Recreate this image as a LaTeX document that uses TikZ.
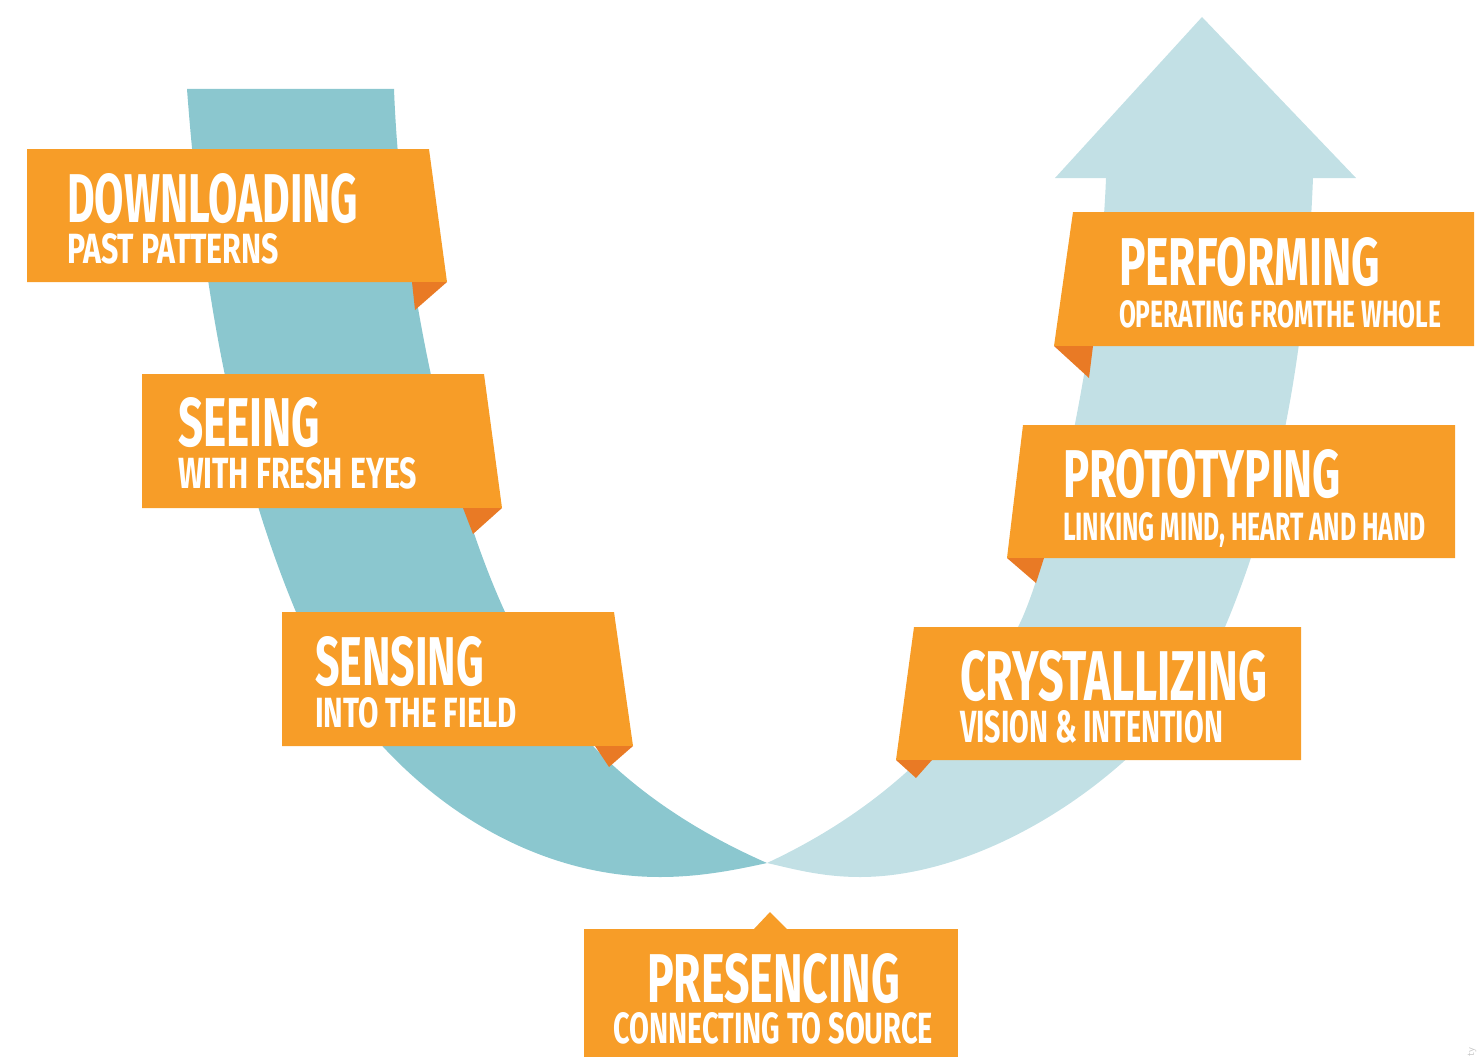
\documentclass[tikz,border=0pt]{standalone}
\usepackage{fontspec}
\usepackage{graphicx}
\newfontfamily\bannerfont{Fira Sans}
\definecolor{bandDark}{RGB}{139,199,207}
\definecolor{bandLight}{RGB}{194,224,229}
\definecolor{bannerOrange}{RGB}{247,157,40}
\definecolor{foldOrange}{RGB}{233,122,37}
% fit a line of banner lettering into a box of given width and cap height
\newcommand\fitline[3]{\resizebox{#1pt}{#2pt}{\bannerfont\bfseries #3}}
\begin{document}
\begin{tikzpicture}[x=1pt,y=-1pt,
  banner/.style={fill=bannerOrange},
  foldtri/.style={fill=foldOrange},
  label/.style={anchor=base west, inner sep=0pt, outer sep=0pt, text=white}]
\useasboundingbox (0,0) rectangle (1481,1057);

% descending band (left half of the U), tapering to the bottom point
\coordinate (bottomtip) at (767,863);
\fill[bandDark]
  (187,89) .. controls (205,330) and (245,490) .. (296,612)
           .. controls (357,758) and (500,877) .. (660,877)
           .. controls (700,877) and (735,870) .. (bottomtip)
           .. controls (667,819) and (560,745) .. (505,612)
           .. controls (440,470) and (400,250) .. (394,89)
  -- cycle;

% ascending band (right half of the U) and its arrow head
\fill[bandLight]
  (bottomtip) .. controls (870,815) and (960,740) .. (1018,627)
              .. controls (1050,565) and (1100,340) .. (1106,178)
  -- (1313,178)
              .. controls (1305,380) and (1270,520) .. (1225,627)
              .. controls (1171,755) and (1000,877) .. (860,877)
              .. controls (820,877) and (790,868) .. (bottomtip)
  -- cycle;
\fill[bandLight] (1055,178) -- (1202,17) -- (1356,178) -- cycle;

% left-hand banners
\fill[banner] (27,149) -- (429,149) -- (447,282) -- (27,282) -- cycle;
\fill[foldtri] (412,282) -- (447,282) -- (415,310) -- cycle;
\node[label] (downT) at (67,222) {\fitline{291}{49}{DOWNLOADING}};
\node[label] (downS) at (67,263) {\fitline{212}{30}{PAST PATTERNS}};

\fill[banner] (142,374) -- (484,374) -- (502,508) -- (142,508) -- cycle;
\fill[foldtri] (463,508) -- (502,508) -- (473,534) -- cycle;
\node[label] (seeT) at (178,446) {\fitline{142}{49}{SEEING}};
\node[label] (seeS) at (178,488) {\fitline{239}{31}{WITH FRESH EYES}};

\fill[banner] (282,612) -- (614,612) -- (633,746) -- (282,746) -- cycle;
\fill[foldtri] (595,746) -- (633,746) -- (609,767) -- cycle;
\node[label] (senT) at (315,685) {\fitline{169}{49}{SENSING}};
\node[label] (senS) at (315,727) {\fitline{202}{30}{INTO THE FIELD}};

% right-hand banners
\fill[banner] (1073,212) -- (1474,212) -- (1474,346) -- (1054,346) -- cycle;
\fill[foldtri] (1054,346) -- (1093,346) -- (1089,378) -- cycle;
\node[label] (perT) at (1119,285) {\fitline{261}{48}{PERFORMING}};
\node[label] (perS) at (1119,327) {\fitline{322}{27}{OPERATING FROMTHE WHOLE}};

\fill[banner] (1023,425) -- (1455,425) -- (1455,558) -- (1007,558) -- cycle;
\fill[foldtri] (1007,558) -- (1044,558) -- (1036,583) -- cycle;
\node[label] (proT) at (1063,497) {\fitline{278}{48}{PROTOTYPING}};
\node[label] (proS) at (1063,540) {\fitline{363}{28}{LINKING MIND, HEART AND HAND}};

\fill[banner] (914,627) -- (1301,627) -- (1301,760) -- (896,760) -- cycle;
\fill[foldtri] (896,760) -- (932,760) -- (916,778) -- cycle;
\node[label] (cryT) at (960,700) {\fitline{307}{50}{CRYSTALLIZING}};
\node[label] (cryS) at (960,742) {\fitline{263}{32}{VISION \& INTENTION}};

% bottom banner with its small pointer
\fill[banner] (584,929) rectangle (958,1057);
\fill[banner] (754,929) -- (770,912) -- (787,929) -- cycle;
\node[label] (preT) at (647,1002) {\fitline{253}{49}{PRESENCING}};
\node[label] (preS) at (613,1043) {\fitline{320}{31}{CONNECTING TO SOURCE}};

% faint lettering at the lower edge
\node[rotate=90, text=black!22, inner sep=0pt, font=\sffamily\fontsize{11}{11}\selectfont] (edge) at (1472,1052) {ty};
\end{tikzpicture}
\end{document}
